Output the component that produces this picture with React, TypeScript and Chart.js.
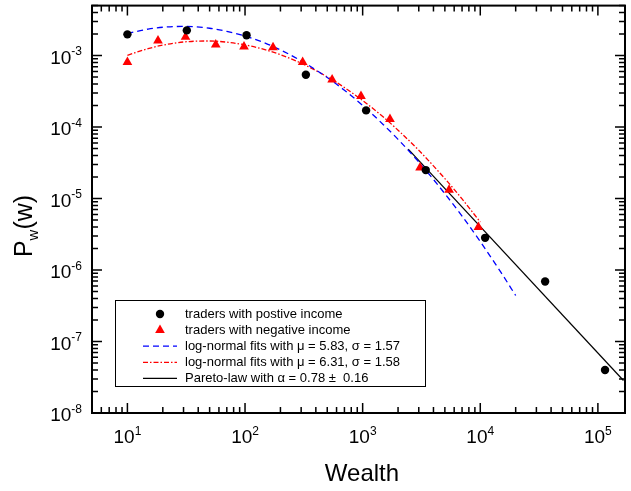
import React, { useEffect, useRef } from "react";
import { Chart, registerables } from "chart.js";

Chart.register(...registerables);

// ---- data ----
const posWealth = [10, 32, 103, 329, 1070, 3440, 11000, 35600, 115000];
const posP = [1.98e-3, 2.25e-3, 1.92e-3, 5.4e-4, 1.71e-4, 2.5e-5, 2.82e-6, 6.9e-7, 4.0e-8];

const negWealth = [10, 18.2, 31.2, 56.4, 98, 173, 309, 550, 968, 1707, 3076, 5430, 9640];
const negP = [8.1e-4, 1.62e-3, 1.82e-3, 1.42e-3, 1.33e-3, 1.3e-3, 8.1e-4, 4.6e-4, 2.7e-4, 1.29e-4, 2.7e-5, 1.32e-5, 3.98e-6];

const fitPosW = [10, 15, 20, 30, 50, 70, 100, 150, 200, 300, 500, 700, 1000, 1500, 2000, 3000, 5000, 7000, 10000, 15000, 20000];
const fitPosP = [2.03e-3, 2.35e-3, 2.49e-3, 2.56e-3, 2.41e-3, 2.18e-3, 1.88e-3, 1.48e-3, 1.2e-3, 8.44e-4, 4.93e-4, 3.27e-4, 2.01e-4, 1.08e-4, 6.73e-5, 3.24e-5, 1.17e-5, 5.68e-6, 2.5e-6, 9.25e-7, 4.4e-7];

const fitNegW = [10, 15, 20, 30, 50, 70, 100, 150, 200, 300, 500, 700, 1000, 1500, 2000, 3000, 5000, 7000, 10000];
const fitNegP = [1.01e-3, 1.25e-3, 1.4e-3, 1.55e-3, 1.6e-3, 1.54e-3, 1.41e-3, 1.2e-3, 1.03e-3, 7.82e-4, 5.04e-4, 3.57e-4, 2.35e-4, 1.38e-4, 9.04e-5, 4.73e-5, 1.9e-5, 9.87e-6, 4.69e-6];

const paretoW = [2440, 165000];
const paretoP = [4.9e-5, 2.85e-8];

const seriesLabels = [
  "traders with postive income",
  "traders with negative income",
  "log-normal fits with \u03bc = 5.83, \u03c3 = 1.57",
  "log-normal fits with \u03bc = 6.31, \u03c3 = 1.58",
  "Pareto-law with \u03b1 = 0.78 \u00b1  0.16",
];

const xTickExps = [1, 2, 3, 4, 5];
const yTickExps = [-8, -7, -6, -5, -4, -3];
const xRange = [5, 1.7e5];
const yRange = [1e-8, 5e-3];

const FONT = '"Liberation Sans", Arial, Helvetica, sans-serif';

const zip = (xs: number[], ys: number[]) => xs.map((x, i) => ({ x, y: ys[i] }));

function drawPow(ctx: CanvasRenderingContext2D, exp: string, x: number, y: number, align: "center" | "right") {
  ctx.font = `19px ${FONT}`;
  const wb = ctx.measureText("10").width;
  ctx.font = `12px ${FONT}`;
  const we = ctx.measureText(exp).width;
  const total = wb + we;
  const sx = align === "center" ? x - total / 2 : x - total;
  ctx.textAlign = "left";
  ctx.textBaseline = "alphabetic";
  ctx.font = `19px ${FONT}`;
  ctx.fillText("10", sx, y);
  ctx.font = `12px ${FONT}`;
  ctx.fillText(exp, sx + wb, y - 8.5);
}

function drawMarker(ctx: CanvasRenderingContext2D, style: string, x: number, y: number, r: number, color: string) {
  ctx.save();
  ctx.fillStyle = color;
  ctx.beginPath();
  if (style === "triangle") {
    let rad = 0;
    ctx.moveTo(x + Math.sin(rad) * r, y - Math.cos(rad) * r);
    rad += (2 * Math.PI) / 3;
    ctx.lineTo(x + Math.sin(rad) * r, y - Math.cos(rad) * r);
    rad += (2 * Math.PI) / 3;
    ctx.lineTo(x + Math.sin(rad) * r, y - Math.cos(rad) * r);
    ctx.closePath();
  } else {
    ctx.arc(x, y, r, 0, Math.PI * 2);
  }
  ctx.fill();
  ctx.restore();
}

const decorPlugin = {
  id: "decor",
  afterDraw(chart: any) {
    const ctx: CanvasRenderingContext2D = chart.ctx;
    const { left, right, top, bottom } = chart.chartArea;
    const xs = chart.scales.x;
    const ys = chart.scales.y;
    ctx.save();
    ctx.strokeStyle = "#000";
    ctx.fillStyle = "#000";

    // frame
    ctx.lineWidth = 2;
    ctx.strokeRect(left, top, right - left, bottom - top);

    // ticks (inward, all four sides)
    ctx.lineWidth = 1.5;
    ctx.beginPath();
    for (let e = 0; e <= 5; e++) {
      for (let m = 1; m <= 9; m++) {
        const v = m * Math.pow(10, e);
        if (v < xRange[0] || v > xRange[1]) continue;
        const px = xs.getPixelForValue(v);
        const len = m === 1 ? 10 : 6;
        ctx.moveTo(px, bottom);
        ctx.lineTo(px, bottom - len);
        ctx.moveTo(px, top);
        ctx.lineTo(px, top + len);
      }
    }
    for (let e = -8; e <= -3; e++) {
      for (let m = 1; m <= 9; m++) {
        const v = m * Math.pow(10, e);
        if (v < yRange[0] * 0.999 || v > yRange[1] * 1.001) continue;
        const py = ys.getPixelForValue(v);
        const len = m === 1 ? 10 : 6;
        ctx.moveTo(left, py);
        ctx.lineTo(left + len, py);
        ctx.moveTo(right, py);
        ctx.lineTo(right - len, py);
      }
    }
    ctx.stroke();

    // tick labels
    xTickExps.forEach((e) => {
      const px = xs.getPixelForValue(Math.pow(10, e));
      drawPow(ctx, String(e), px, bottom + 30, "center");
    });
    yTickExps.forEach((e) => {
      const py = ys.getPixelForValue(Math.pow(10, e));
      drawPow(ctx, String(e), left - 10, py + 8, "right");
    });

    // x title
    ctx.font = `24px ${FONT}`;
    ctx.textAlign = "center";
    ctx.textBaseline = "alphabetic";
    ctx.fillText("Wealth", 362, 481);

    // y title P_w(w)
    ctx.save();
    ctx.translate(32, 226);
    ctx.rotate(-Math.PI / 2);
    ctx.textAlign = "left";
    ctx.font = `25px ${FONT}`;
    const wP = ctx.measureText("P").width;
    const wR = ctx.measureText("(w)").width;
    ctx.font = `15px ${FONT}`;
    const wS = ctx.measureText("w").width;
    const tot = wP + wS + wR;
    let sx = -tot / 2;
    ctx.font = `25px ${FONT}`;
    ctx.fillText("P", sx, 0);
    sx += wP;
    ctx.font = `15px ${FONT}`;
    ctx.fillText("w", sx, 6);
    sx += wS;
    ctx.font = `25px ${FONT}`;
    ctx.fillText("(w)", sx, 0);
    ctx.restore();

    // legend
    const bx = 115.5, by = 300.5, bw = 310, bh = 86;
    ctx.fillStyle = "#fff";
    ctx.fillRect(bx, by, bw, bh);
    ctx.lineWidth = 1;
    ctx.strokeStyle = "#000";
    ctx.strokeRect(bx, by, bw, bh);
    const sets = chart.data.datasets;
    sets.forEach((ds: any, i: number) => {
      const cy = 314 + i * 16.1;
      if (ds.showLine) {
        ctx.save();
        ctx.strokeStyle = ds.borderColor;
        ctx.lineWidth = ds.borderWidth;
        ctx.setLineDash(ds.borderDash || []);
        ctx.beginPath();
        ctx.moveTo(143, cy);
        ctx.lineTo(177, cy);
        ctx.stroke();
        ctx.restore();
      } else {
        drawMarker(ctx, ds.pointStyle, 160, cy, ds.pointRadius, ds.backgroundColor);
      }
      ctx.fillStyle = "#000";
      ctx.font = `13px ${FONT}`;
      ctx.textAlign = "left";
      ctx.textBaseline = "middle";
      ctx.fillText(ds.label, 185, cy + 0.5);
    });

    ctx.restore();
  },
};

export default function App() {
  const ref = useRef<HTMLCanvasElement | null>(null);

  useEffect(() => {
    if (!ref.current) return;
    const chart = new Chart(ref.current, {
      type: "scatter",
      data: {
        datasets: [
          {
            label: seriesLabels[0],
            data: zip(posWealth, posP),
            showLine: false,
            pointStyle: "circle",
            pointRadius: 4.2,
            backgroundColor: "#000000",
            borderColor: "#000000",
            borderWidth: 0,
          },
          {
            label: seriesLabels[1],
            data: zip(negWealth, negP),
            showLine: false,
            pointStyle: "triangle",
            pointRadius: 5.6,
            backgroundColor: "#ff0000",
            borderColor: "#ff0000",
            borderWidth: 0,
          },
          {
            label: seriesLabels[2],
            data: zip(fitPosW, fitPosP),
            showLine: true,
            pointRadius: 0,
            borderColor: "#0000ff",
            borderWidth: 1.3,
            borderDash: [6, 4],
            cubicInterpolationMode: "monotone",
          },
          {
            label: seriesLabels[3],
            data: zip(fitNegW, fitNegP),
            showLine: true,
            pointRadius: 0,
            borderColor: "#ff0000",
            borderWidth: 1.3,
            borderDash: [5, 2, 1.5, 2],
            cubicInterpolationMode: "monotone",
          },
          {
            label: seriesLabels[4],
            data: zip(paretoW, paretoP),
            showLine: true,
            pointRadius: 0,
            borderColor: "#000000",
            borderWidth: 1.2,
          },
        ] as any,
      },
      options: {
        animation: false,
        responsive: false,
        layout: { padding: { left: 92, top: 5, right: 6, bottom: 78 } },
        plugins: { legend: { display: false }, tooltip: { enabled: false } },
        scales: {
          x: { type: "logarithmic", min: xRange[0], max: xRange[1], display: false },
          y: { type: "logarithmic", min: yRange[0], max: yRange[1], display: false },
        },
      },
      plugins: [decorPlugin],
    });
    return () => chart.destroy();
  }, []);

  return (
    <div style={{ position: "absolute", left: 0, top: 0, width: 631, height: 491, background: "#fff" }}>
      <canvas ref={ref} width={631} height={491} style={{ width: 631, height: 491, display: "block" }} />
    </div>
  );
}
